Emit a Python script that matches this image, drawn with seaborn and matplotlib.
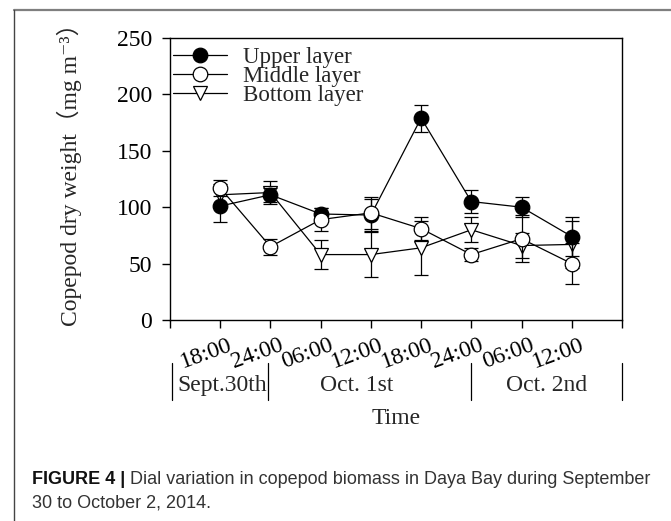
import matplotlib
matplotlib.use("Agg")
import matplotlib.pyplot as plt
import matplotlib.transforms as mtransforms
from matplotlib.lines import Line2D
import seaborn as sns
import pandas as pd
import numpy as np

# ---------------- data ----------------
time_labels = ["18:00", "24:00", "06:00", "12:00", "18:00", "24:00", "06:00", "12:00"]
upper = [101, 111, 94, 93, 179, 105, 100, 74]
upper_err = [14, 6, 5, 14, 12, 10, 9, 17]
middle = [117, 65, 89, 95, 81, 58, 72, 50]
middle_err = [7, 7, 10, 14, 10, 6, 21, 18]
bottom = [111, 113, 58, 58, 64, 80, 66, 67]
bottom_err = [10, 10, 13, 20, 24, 11, 11, 21]
series_names = ["Upper layer", "Middle layer", "Bottom layer"]
day_labels = ["Sept.30th", "Oct. 1st", "Oct. 2nd"]
day_centers = [1.04, 3.72, 7.5]
day_bounds = [0.03, 1.95, 6.0, 9.0]
caption_bold = "FIGURE 4 |"
caption_rest = " Dial variation in copepod biomass in Daya Bay during September"
caption_line2 = "30 to October 2, 2014."

pos = np.arange(1, len(time_labels) + 1)
df = pd.DataFrame({
    "pos": np.tile(pos, 3),
    "value": upper + middle + bottom,
    "err": upper_err + middle_err + bottom_err,
    "layer": np.repeat(series_names, len(pos)),
})

# ---------------- style ----------------
FS = 17
sns.set_theme(style="ticks")
plt.rcParams["font.family"] = ["Liberation Serif", "DejaVu Serif"]
plt.rcParams["font.size"] = FS
plt.rcParams["axes.linewidth"] = 1.0
plt.rcParams["xtick.major.size"] = 5.8
plt.rcParams["ytick.major.size"] = 5.8
plt.rcParams["xtick.major.width"] = 1.0
plt.rcParams["ytick.major.width"] = 1.0
plt.rcParams["xtick.color"] = "black"
plt.rcParams["ytick.color"] = "black"

fig = plt.figure(figsize=(6.71, 5.21), dpi=100)
ax = fig.add_axes([170 / 671, 1 - 320 / 521, (622 - 170) / 671, (320 - 38) / 521])

styles = {
    "Upper layer": dict(marker="o", mfc="black", z=4),
    "Middle layer": dict(marker="o", mfc="white", z=5),
    "Bottom layer": dict(marker="v", mfc="white", z=3),
}

for name in series_names:
    sub = df[df["layer"] == name]
    st = styles[name]
    ax.errorbar(sub["pos"], sub["value"], yerr=sub["err"], fmt="none",
                ecolor="black", elinewidth=0.9, capsize=5, capthick=0.9,
                zorder=st["z"] - 0.5)
    sns.lineplot(data=sub, x="pos", y="value", ax=ax, color="black",
                 marker=st["marker"], markersize=10.5,
                 markerfacecolor=st["mfc"], markeredgecolor="black",
                 markeredgewidth=0.9, linewidth=0.9, label=name,
                 zorder=st["z"], legend=False)

ax.set_xlim(0, 9)
ax.set_ylim(0, 250)
ax.set_yticks(np.arange(0, 251, 50))
ax.set_xticks(np.arange(0, 10))
ax.set_xticklabels([""] + time_labels + [""], rotation=20, ha="right",
                   va="top", rotation_mode="anchor", fontsize=FS)
ax.tick_params(axis="x", pad=5, direction="out")
ax.tick_params(axis="y", pad=7, direction="out", labelsize=FS)
offset = mtransforms.ScaledTranslation(8 / 100, 0, fig.dpi_scale_trans)
for lab in ax.get_xticklabels():
    lab.set_transform(lab.get_transform() + offset)
for sp in ax.spines.values():
    sp.set_visible(True)
    sp.set_color("black")

ax.set_xlabel("Time", fontsize=FS)
ax.xaxis.set_label_coords(0.5, -0.312)
ax.set_ylabel("Copepod dry weight（mg m⁻³）", fontsize=FS,
              family=["Liberation Serif", "Noto Sans CJK SC", "DejaVu Serif"])
ax.yaxis.set_label_coords(-0.195, 0.535)

# day row
trans = mtransforms.blended_transform_factory(ax.transData, ax.transAxes)
for lab, c in zip(day_labels, day_centers):
    ax.text(c, -0.232, lab, transform=trans, ha="center", va="center",
            fontsize=FS, clip_on=False)
for b in day_bounds:
    ax.add_line(Line2D([b, b], [-0.1525, -0.284], transform=trans,
                       color="black", linewidth=0.9, clip_on=False))

leg = ax.legend(loc="upper left", bbox_to_anchor=(0, 0.981), frameon=False,
                fontsize=16.5, handlelength=2.35, handletextpad=0.7,
                borderaxespad=0.0, borderpad=0.15, labelspacing=-0.08,
                numpoints=1)

# figure border (top & left)
fig.add_artist(Line2D([14 / 671, 1.0], [1 - 10 / 521, 1 - 10 / 521],
                      transform=fig.transFigure, color="#7f7f7f", linewidth=1.6))
fig.add_artist(Line2D([14 / 671, 14 / 671], [1 - 10 / 521, 0.0],
                      transform=fig.transFigure, color="#444444", linewidth=1.0))

# caption
cap_family = ["Liberation Sans", "DejaVu Sans"]
x0 = 31.5 / 671
y1 = 1 - 484.5 / 521
y2 = 1 - 508 / 521
fs = 11.0
t1 = fig.text(x0, y1, caption_bold, fontsize=fs, weight="bold",
              family=cap_family, color="#111111", va="baseline")
t2 = fig.text(x0, y1, caption_rest, fontsize=fs, family=cap_family,
              color="#333333", va="baseline")
t3 = fig.text(x0, y2, caption_line2, fontsize=fs, family=cap_family,
              color="#333333", va="baseline")
fig.canvas.draw()
r = fig.canvas.get_renderer()
wb = t1.get_window_extent(r).width
wr = t2.get_window_extent(r).width
scale = 616.0 / (wb + wr)
fs2 = fs * scale
for t in (t1, t2, t3):
    t.set_fontsize(fs2)
fig.canvas.draw()
wb = t1.get_window_extent(r).width
t2.set_x(x0 + wb / 671)

fig.savefig("out.png", dpi=100)
